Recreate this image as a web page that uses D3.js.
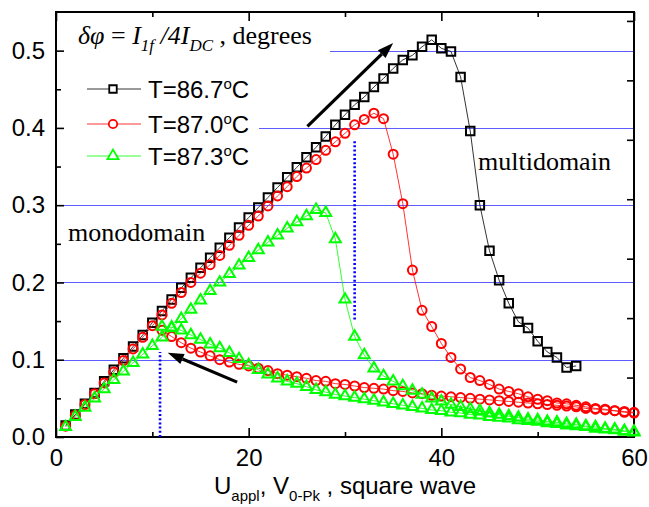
<!DOCTYPE html>
<html>
<head>
<meta charset="utf-8">
<script src="https://cdn.jsdelivr.net/npm/d3@7"></script>
<style>
  body { margin: 0; background: #fff; }
  svg { display: block; }
</style>
</head>
<body>
<div id="vis"></div>
<script>
// applied voltage, V 0-Pk (sweep points)
const volts = [1,2,3,4,5,6,7,8,9,10,11,12,13,14,15,16,17,18,19,20,
  21,22,23,24,25,26,27,28,29,30,31,32,33,34,35,36,37,38,39,40,
  41,42,43,44,45,46,47,48,49,50,51,52,53,54,55,56,57,58,59,60];

// T=86.7 (forward sweep only, 1..54)
const black867 = [0.015,0.029,0.043,0.057,0.072,0.087,0.102,0.117,0.132,0.148,
  0.163,0.178,0.193,0.206,0.219,0.232,0.245,0.258,0.271,0.284,
  0.297,0.310,0.323,0.336,0.349,0.362,0.375,0.389,0.404,0.417,
  0.430,0.440,0.453,0.464,0.477,0.488,0.494,0.505,0.514,0.503,
  0.499,0.466,0.396,0.300,0.241,0.203,0.173,0.149,0.141,0.124,
  0.110,0.103,0.090,0.092];

// T=87.0 forward (1..60) and backward (11..60)
const red870Up = [0.014,0.028,0.042,0.056,0.070,0.084,0.099,0.114,0.129,0.144,
  0.158,0.173,0.187,0.200,0.212,0.223,0.235,0.248,0.261,0.274,
  0.286,0.299,0.312,0.324,0.337,0.348,0.359,0.371,0.382,0.393,
  0.404,0.411,0.419,0.412,0.366,0.302,0.216,0.164,0.143,0.121,
  0.103,0.088,0.077,0.073,0.068,0.062,0.059,0.056,0.052,0.049,
  0.047,0.044,0.043,0.041,0.039,0.037,0.036,0.034,0.033,0.032];
const red870Down = [0.138,0.130,0.122,0.115,0.110,0.105,0.100,0.097,0.094,0.092,
  0.089,0.086,0.082,0.080,0.078,0.076,0.073,0.072,0.069,0.068,
  0.066,0.064,0.063,0.062,0.060,0.059,0.057,0.056,0.054,0.053,
  0.052,0.051,0.050,0.049,0.048,0.047,0.046,0.045,0.044,0.043,
  0.042,0.041,0.040,0.039,0.037,0.036,0.035,0.034,0.032,0.031];

// T=87.3 forward (1..60) and backward (11..60)
const green873Up = [0.013,0.026,0.038,0.050,0.062,0.074,0.085,0.096,0.107,0.118,
  0.129,0.141,0.153,0.165,0.177,0.189,0.200,0.211,0.222,0.232,
  0.242,0.252,0.261,0.270,0.278,0.286,0.294,0.290,0.256,0.178,
  0.130,0.106,0.089,0.079,0.072,0.066,0.060,0.055,0.050,0.046,
  0.042,0.039,0.036,0.034,0.031,0.029,0.027,0.025,0.023,0.022,
  0.020,0.019,0.017,0.016,0.014,0.013,0.011,0.010,0.008,0.007];
const green873Down = [0.143,0.142,0.138,0.132,0.126,0.120,0.115,0.109,0.101,0.093,
  0.087,0.081,0.076,0.072,0.069,0.065,0.061,0.058,0.055,0.053,
  0.051,0.049,0.047,0.045,0.043,0.041,0.039,0.037,0.035,0.034,
  0.032,0.031,0.029,0.028,0.026,0.025,0.024,0.022,0.021,0.020,
  0.018,0.017,0.015,0.014,0.013,0.011,0.010,0.009,0.007,0.006];

const legendLabels = ['T=86.7', 'T=87.0', 'T=87.3'];
const xMajor = [0, 20, 40, 60];
const xMinor = [10, 30, 50];
const yMajor = [0, 0.1, 0.2, 0.3, 0.4, 0.5];
const yMinor = [0.05, 0.15, 0.25, 0.35, 0.45];
const gridValues = [0.1, 0.2, 0.3, 0.4, 0.5];
// dotted threshold markers: [x, yFrom, yTo]
const thresholds = [[10.8, 0, 0.11], [31, 0.152, 0.384]];
// arrows: [x0, y0, x1, y1] (tail -> tip)
const arrows = [[26.1, 0.402, 35.0, 0.51], [18.8, 0.071, 11.6, 0.109]];

const W = 649, H = 507;
const pLeft = 56, pRight = 634, pTop = 12, pBottom = 437;

const svg = d3.select('#vis').append('svg')
  .attr('width', W).attr('height', H);

const x = d3.scaleLinear().domain([0, 60]).range([pLeft, pRight]);
const y = d3.scaleLinear().domain([0, 0.55]).range([pBottom, pTop]);
// right axis has its own tick spacing in the original
const yRight = d3.scaleLinear().domain([0, 7.15]).range([pBottom, pTop]);

// reference lines
svg.selectAll('.grid').data(gridValues).enter().append('line')
  .attr('class', 'grid')
  .attr('x1', pLeft).attr('x2', pRight)
  .attr('y1', d => Math.round(y(d)) + 0.5).attr('y2', d => Math.round(y(d)) + 0.5)
  .attr('stroke', '#5c5cff').attr('stroke-width', 1);

// white boxes behind title and legend (hide gridlines there)
svg.append('rect').attr('x', pLeft + 2).attr('y', pTop + 2).attr('width', 330 - pLeft - 2).attr('height', 50).attr('fill', '#fff');
svg.append('rect').attr('x', pLeft + 2).attr('y', 66).attr('width', 259 - pLeft - 2).attr('height', 104).attr('fill', '#fff');

// axes
const fontSans = '"Liberation Sans", Arial, sans-serif';
function styleAxis(g) {
  g.select('.domain').remove();
  g.selectAll('line').attr('stroke', '#000').attr('stroke-width', 1.6);
  g.selectAll('text').attr('font-family', fontSans).attr('font-size', 24).attr('fill', '#000');
}
svg.append('g').attr('transform', `translate(0,${pBottom})`)
  .call(d3.axisBottom(x).tickValues(xMajor).tickSize(-9).tickPadding(12).tickFormat(d3.format('d')))
  .call(styleAxis);
svg.append('g').attr('transform', `translate(0,${pBottom})`)
  .call(d3.axisBottom(x).tickValues(xMinor).tickSize(-5).tickFormat(''))
  .call(styleAxis);
svg.append('g').attr('transform', `translate(0,${pTop})`)
  .call(d3.axisTop(x).tickValues(xMajor).tickSize(-9).tickFormat(''))
  .call(styleAxis);
svg.append('g').attr('transform', `translate(0,${pTop})`)
  .call(d3.axisTop(x).tickValues(xMinor).tickSize(-5).tickFormat(''))
  .call(styleAxis);
svg.append('g').attr('transform', `translate(${pLeft},0)`)
  .call(d3.axisLeft(y).tickValues(yMajor).tickSize(-8).tickPadding(11).tickFormat(d3.format('.1f')))
  .call(styleAxis);
svg.append('g').attr('transform', `translate(${pLeft},0)`)
  .call(d3.axisLeft(y).tickValues(yMinor).tickSize(-5).tickFormat(''))
  .call(styleAxis);
svg.append('g').attr('transform', `translate(${pRight},0)`)
  .call(d3.axisRight(yRight).tickValues([1, 2, 3, 4, 5, 6, 7]).tickSize(-7).tickFormat(''))
  .call(styleAxis);

// frame
svg.append('rect').attr('x', pLeft).attr('y', pTop)
  .attr('width', pRight - pLeft).attr('height', pBottom - pTop)
  .attr('fill', 'none').attr('stroke', '#000').attr('stroke-width', 2);

// dotted thresholds
svg.selectAll('.thr').data(thresholds).enter().append('line')
  .attr('class', 'thr')
  .attr('x1', d => x(d[0])).attr('x2', d => x(d[0]))
  .attr('y1', d => y(d[1])).attr('y2', d => y(d[2]))
  .attr('stroke', '#0000ff').attr('stroke-width', 2.6)
  .attr('stroke-dasharray', '2,2.2');

// series
const line = d3.line().x(d => x(d[0])).y(d => y(d[1]));
const sqr = d3.symbol().type(d3.symbolSquare).size(72);
const tri = d3.symbol().type(d3.symbolTriangle).size(52);

function zipPts(xs, ys) { return ys.map((v, i) => [xs[i], v]); }

function drawSeries(pts, color, kind) {
  const g = svg.append('g');
  g.append('path').attr('d', line(pts)).attr('fill', 'none')
    .attr('stroke', color).attr('stroke-width', 0.8);
  const m = g.selectAll('.m').data(pts).enter();
  if (kind === 'circle') {
    m.append('circle').attr('cx', d => x(d[0])).attr('cy', d => y(d[1])).attr('r', 4.5)
      .attr('fill', 'none').attr('stroke', color).attr('stroke-width', 2);
  } else {
    m.append('path').attr('d', kind === 'square' ? sqr() : tri())
      .attr('transform', d => `translate(${x(d[0])},${y(d[1])})`)
      .attr('fill', 'none').attr('stroke', color).attr('stroke-width', 2);
  }
}

drawSeries(zipPts(volts, black867), '#000000', 'square');
drawSeries(zipPts(volts, red870Up), '#ff0000', 'circle');
drawSeries(zipPts(volts.slice(10), red870Down), '#ff0000', 'circle');
drawSeries(zipPts(volts, green873Up), '#00ff00', 'triangle');
drawSeries(zipPts(volts.slice(10), green873Down), '#00ff00', 'triangle');

// arrows
arrows.forEach(a => {
  const x0 = x(a[0]), y0 = y(a[1]), x1 = x(a[2]), y1 = y(a[3]);
  const ang = Math.atan2(y1 - y0, x1 - x0);
  const L = 16, hw = 5.5;
  const bx = x1 - L * Math.cos(ang), by = y1 - L * Math.sin(ang);
  svg.append('line').attr('x1', x0).attr('y1', y0).attr('x2', bx).attr('y2', by)
    .attr('stroke', '#000').attr('stroke-width', 3.2);
  svg.append('path')
    .attr('d', `M${x1},${y1}L${bx + hw * Math.sin(ang)},${by - hw * Math.cos(ang)}L${bx - hw * Math.sin(ang)},${by + hw * Math.cos(ang)}Z`)
    .attr('fill', '#000');
});

// title
const fontSerif = '"Liberation Serif", "Times New Roman", serif';
const title = svg.append('text').attr('x', 78).attr('y', 44)
  .attr('font-family', fontSerif).attr('font-size', 26).attr('fill', '#000');
title.append('tspan').attr('font-style', 'italic').text('δφ');
title.append('tspan').text(' = ');
title.append('tspan').attr('font-style', 'italic').text('I');
title.append('tspan').attr('font-style', 'italic').attr('font-size', 17).attr('dy', 7).text('1f');
title.append('tspan').attr('font-style', 'italic').attr('dy', -7).text(' /4I');
title.append('tspan').attr('font-style', 'italic').attr('font-size', 17).attr('dy', 7).text('DC');
title.append('tspan').attr('dy', -7).text(' , degrees');

// legend
const legendRows = [89, 124, 156];
const legendColors = ['#000000', '#ff0000', '#00ff00'];
const legendKinds = ['square', 'circle', 'triangle'];
legendLabels.forEach((lab, i) => {
  const ly = legendRows[i];
  svg.append('line').attr('x1', 87).attr('x2', 141).attr('y1', ly).attr('y2', ly)
    .attr('stroke', legendColors[i]).attr('stroke-width', 0.8);
  if (legendKinds[i] === 'circle') {
    svg.append('circle').attr('cx', 113).attr('cy', ly).attr('r', 4.2).attr('fill', '#fff')
      .attr('stroke', legendColors[i]).attr('stroke-width', 1.8);
  } else {
    const sym = d3.symbol().type(legendKinds[i] === 'square' ? d3.symbolSquare : d3.symbolTriangle)
      .size(legendKinds[i] === 'square' ? 56 : 52);
    svg.append('path').attr('d', sym()).attr('transform', `translate(113,${ly})`)
      .attr('fill', '#fff').attr('stroke', legendColors[i]).attr('stroke-width', 1.8);
  }
  const t = svg.append('text').attr('x', 148).attr('y', ly + 8.5)
    .attr('font-family', fontSans).attr('font-size', 24).attr('fill', '#000');
  t.append('tspan').text(lab);
  t.append('tspan').attr('font-size', 15).attr('dy', -9).text('o');
  t.append('tspan').attr('dy', 9).text('C');
});

// annotations
svg.append('text').attr('x', 68).attr('y', 241)
  .attr('font-family', fontSerif).attr('font-size', 26).text('monodomain');
svg.append('text').attr('x', 478).attr('y', 170)
  .attr('font-family', fontSerif).attr('font-size', 26).text('multidomain');

// x axis title
const xt = svg.append('text').attr('x', 345).attr('y', 494).attr('text-anchor', 'middle')
  .attr('font-family', fontSans).attr('font-size', 24).attr('fill', '#000');
xt.append('tspan').text('U');
xt.append('tspan').attr('font-size', 15).attr('dy', 7).text('appl');
xt.append('tspan').attr('dy', -7).text(', V');
xt.append('tspan').attr('font-size', 15).attr('dy', 7).text('0-Pk');
xt.append('tspan').attr('dy', -7).text(' , square wave');
</script>
</body>
</html>
